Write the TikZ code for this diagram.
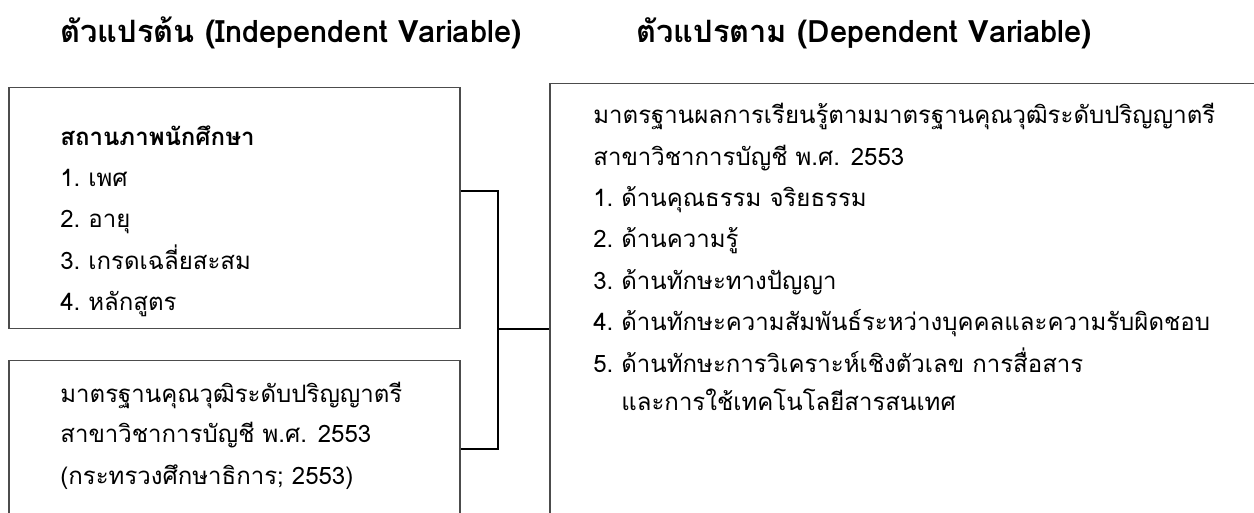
\documentclass[tikz,border=0pt]{standalone}
\usepackage{fontspec}
\setmainfont[Script=Thai]{Loma}
\begin{document}
\begin{tikzpicture}[x=0.5pt,y=-0.5pt,
  box/.style={draw=black!70, line width=0.75pt, rectangle, inner sep=0pt, anchor=north west},
  conn/.style={draw=black, line width=0.75pt},
  txt/.style={anchor=west, inner sep=0pt, text height=10pt, text depth=4pt, font=\fontsize{12}{14}\selectfont},
  head/.style={anchor=west, inner sep=0pt, text height=12pt, text depth=4pt, font=\fontsize{15.4}{18}\selectfont\bfseries}]
\useasboundingbox (0,0) rectangle (1254,513);
\clip (0,0) rectangle (1254,513);
% headings
\node[head] (h1) at (60,35) {ตัวแปรต้น (Independent Variable)};
\node[head] (h2) at (636,35) {ตัวแปรตาม (Dependent Variable)};
% boxes
\node[box, minimum width=225.5pt, minimum height=120.5pt] (b1) at (8,87) {};
\node[box, minimum width=225.5pt, minimum height=120pt] (b2) at (8,360) {};
\node[box, minimum width=400pt, minimum height=250pt] (rb) at (549,83) {};
% box 1 text
\node[txt, font=\fontsize{12}{14}\selectfont\bfseries] (t10) at (60,140) {สถานภาพนักศึกษา};
\node[txt] (t11) at (60,181) {\makebox[14pt][l]{1.}เพศ};
\node[txt] (t12) at (60,222) {\makebox[14pt][l]{2.}อายุ};
\node[txt] (t13) at (60,264) {\makebox[14pt][l]{3.}เกรดเฉลี่ยสะสม};
\node[txt] (t14) at (60,305) {\makebox[14pt][l]{4.}หลักสูตร};
% box 2 text
\node[txt] (t21) at (60,396) {มาตรฐานคุณวุฒิระดับปริญญาตรี};
\node[txt] (t22) at (60,437) {สาขาวิชาการบัญชี พ.ศ. 2553};
\node[txt] (t23) at (60,478) {(กระทรวงศึกษาธิการ; 2553)};
% right box text
\node[txt] (r1) at (593,118) {มาตรฐานผลการเรียนรู้ตามมาตรฐานคุณวุฒิระดับปริญญาตรี};
\node[txt] (r2) at (593,160) {สาขาวิชาการบัญชี พ.ศ. 2553};
\node[txt] (r3) at (593,201) {\makebox[14pt][l]{1.}ด้านคุณธรรม จริยธรรม};
\node[txt] (r4) at (593,242) {\makebox[14pt][l]{2.}ด้านความรู้};
\node[txt] (r5) at (593,284) {\makebox[14pt][l]{3.}ด้านทักษะทางปัญญา};
\node[txt] (r6) at (593,325) {\makebox[14pt][l]{4.}ด้านทักษะความสัมพันธ์ระหว่างบุคคลและความรับผิดชอบ};
\node[txt] (r7) at (593,366) {\makebox[14pt][l]{5.}ด้านทักษะการวิเคราะห์เชิงตัวเลข การสื่อสาร};
\node[txt] (r8) at (621,405) {และการใช้เทคโนโลยีสารสนเทศ};
% connectors
\coordinate (j1) at (498,191);
\coordinate (jm) at (498,329);
\coordinate (j2) at (498,449);
\draw[conn] (b1.east |- j1) -- (j1) -- (j2) -- (b2.east |- j2);
\draw[conn] (jm) -- (rb.west |- jm);
\end{tikzpicture}
\end{document}
